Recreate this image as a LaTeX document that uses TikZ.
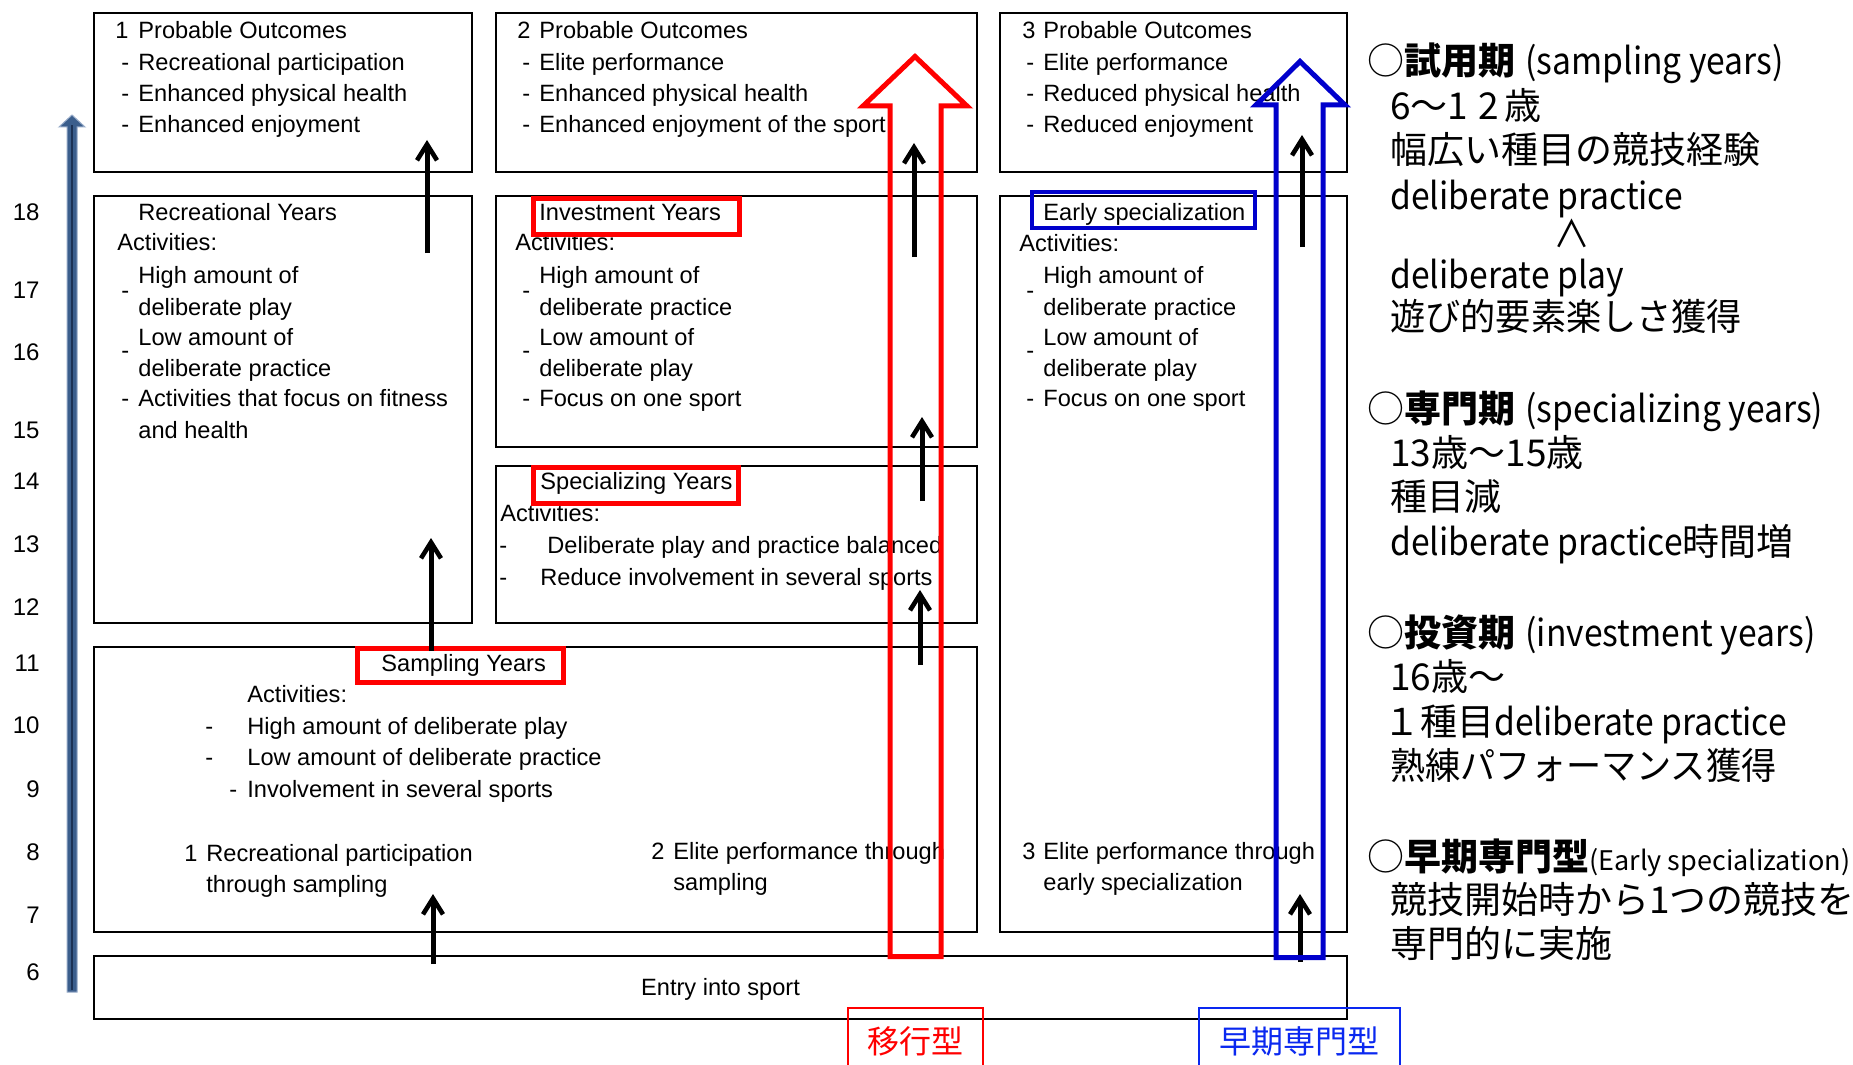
\documentclass[tikz,border=0pt]{standalone}
\usepackage{fontspec}
\setmainfont{Liberation Sans}
\newfontfamily\jp{Noto Sans CJK JP}
\newfontfamily\jpl[FakeStretch=0.91]{Noto Sans CJK JP}
\newfontfamily\jpn[FakeStretch=0.95]{Noto Sans CJK JP}
\usetikzlibrary{arrows.meta}
\definecolor{myred}{RGB}{255,0,0}
\definecolor{myblue}{RGB}{0,0,204}
\definecolor{lblblue}{RGB}{10,40,240}
\definecolor{axisblue}{RGB}{59,94,140}
\definecolor{axisdark}{RGB}{28,50,85}
\definecolor{axislight}{RGB}{150,170,200}
\begin{document}
\begin{tikzpicture}[x=0.5pt,y=-0.5pt,
  box/.style={draw, line width=1pt, inner sep=0pt, anchor=north west},
  hlred/.style={draw=myred, line width=2.5pt, inner sep=0pt, anchor=north west},
  hlblue/.style={draw=myblue, line width=2pt, inner sep=0pt, anchor=north west},
  txt/.style={anchor=west, inner sep=0pt, text height=8.45pt, text depth=0pt, font=\fontsize{11.8pt}{14pt}\selectfont},
  num/.style={anchor=east, inner sep=0pt, text height=8.6pt, text depth=0pt, font=\fontsize{12pt}{14pt}\selectfont},
  jtxt/.style={anchor=west, inner sep=0pt, text height=13.7pt, text depth=0pt, font=\jp\fontsize{18.5pt}{22pt}\selectfont},
  blk/.style={line width=2.5pt, -{Straight Barb[length=8pt,width=10pt,line width=2.3pt]}},
  bigred/.style={draw=myred, line width=2.5pt, miter limit=20},
  bigblue/.style={draw=myblue, line width=2.5pt, miter limit=20},
]
\useasboundingbox (0,0) rectangle (1853,1065);
\fill[white] (0,0) rectangle (1853,1065);

% ---------- axis arrow ----------
\fill[axisblue, draw=axislight, line width=0.5pt]
  (67,992) -- (67,127) -- (59,127) -- (72,115) -- (85,127) -- (77,127) -- (77,992) -- cycle;
\draw[axisdark, line width=0.6pt] (72,990) -- (72,125);

% ---------- age numbers ----------
\node[num] (n18) at (40,212) {18};
\node[num] (n17) at (40,290) {17};
\node[num] (n16) at (40,352) {16};
\node[num] (n15) at (40,430) {15};
\node[num] (n14) at (40,481) {14};
\node[num] (n13) at (40,544) {13};
\node[num] (n12) at (40,607) {12};
\node[num] (n11) at (40,663) {11};
\node[num] (n10) at (40,725) {10};
\node[num] (n9) at (40,789) {9};
\node[num] (n8) at (40,852) {8};
\node[num] (n7) at (40,915) {7};
\node[num] (n6) at (40,972) {6};

% ---------- boxes ----------
\node[box, minimum width=189pt, minimum height=79.5pt] (out1) at (93,12) {};
\node[box, minimum width=240.5pt, minimum height=79.5pt] (out2) at (495,12) {};
\node[box, minimum width=173.5pt, minimum height=79.5pt] (out3) at (999,12) {};
\node[box, minimum width=189pt, minimum height=213.5pt] (rec) at (93,195) {};
\node[box, minimum width=240.5pt, minimum height=125.5pt] (inv) at (495,195) {};
\node[box, minimum width=240.5pt, minimum height=78.5pt] (spec) at (495,465) {};
\node[box, minimum width=173.5pt, minimum height=368pt] (early) at (999,195) {};
\node[box, minimum width=441.5pt, minimum height=142.5pt] (samp) at (93,646) {};
\node[box, minimum width=626.5pt, minimum height=31.5pt, text height=8.45pt, text depth=0pt, font=\fontsize{11.8pt}{14pt}\selectfont] (entry) at (93,955) {Entry into sport};

% ---------- outcomes 1 ----------
\node[txt] (o1n) at (115,30) {1};
\node[txt] (o1h) at (138,30) {Probable Outcomes};
\node[txt] (o1d1) at (121,62) {-};
\node[txt] (o1a) at (138,62) {Recreational participation};
\node[txt] (o1d2) at (121,93) {-};
\node[txt] (o1b) at (138,93) {Enhanced physical health};
\node[txt] (o1d3) at (121,124) {-};
\node[txt] (o1c) at (138,124) {Enhanced enjoyment};

% ---------- outcomes 2 ----------
\node[txt] (o2n) at (517,30) {2};
\node[txt] (o2h) at (539,30) {Probable Outcomes};
\node[txt] (o2d1) at (522,62) {-};
\node[txt] (o2a) at (539,62) {Elite performance};
\node[txt] (o2d2) at (522,93) {-};
\node[txt] (o2b) at (539,93) {Enhanced physical health};
\node[txt] (o2d3) at (522,124) {-};
\node[txt] (o2c) at (539,124) {Enhanced enjoyment of the sport};

% ---------- outcomes 3 ----------
\node[txt] (o3n) at (1022,30) {3};
\node[txt] (o3h) at (1043,30) {Probable Outcomes};
\node[txt] (o3d1) at (1026,62) {-};
\node[txt] (o3a) at (1043,62) {Elite performance};
\node[txt] (o3d2) at (1026,93) {-};
\node[txt] (o3b) at (1043,93) {Reduced physical health};
\node[txt] (o3d3) at (1026,124) {-};
\node[txt] (o3c) at (1043,124) {Reduced enjoyment};

% ---------- recreational years ----------
\node[txt] (r1) at (138,212) {Recreational Years};
\node[txt] (r2) at (117,242) {Activities:};
\node[txt] (rd1) at (121,290) {-};
\node[txt] (r3) at (138,275) {High amount of};
\node[txt] (r4) at (138,307) {deliberate play};
\node[txt] (rd2) at (121,350) {-};
\node[txt] (r5) at (138,337) {Low amount of};
\node[txt] (r6) at (138,368) {deliberate practice};
\node[txt] (rd3) at (121,398) {-};
\node[txt] (r7) at (138,398) {Activities that focus on fitness};
\node[txt] (r8) at (138,430) {and health};

% ---------- investment years ----------
\node[txt] (i1) at (539,212) {Investment Years};
\node[txt] (i2) at (515,242) {Activities:};
\node[txt] (id1) at (522,290) {-};
\node[txt] (i3) at (539,275) {High amount of};
\node[txt] (i4) at (539,307) {deliberate practice};
\node[txt] (id2) at (522,350) {-};
\node[txt] (i5) at (539,337) {Low amount of};
\node[txt] (i6) at (539,368) {deliberate play};
\node[txt] (id3) at (522,398) {-};
\node[txt] (i7) at (539,398) {Focus on one sport};

% ---------- early specialization ----------
\node[txt] (e1) at (1043,212) {Early specialization};
\node[txt] (e2) at (1019,243) {Activities:};
\node[txt] (ed1) at (1026,290) {-};
\node[txt] (e3) at (1043,275) {High amount of};
\node[txt] (e4) at (1043,307) {deliberate practice};
\node[txt] (ed2) at (1026,350) {-};
\node[txt] (e5) at (1043,337) {Low amount of};
\node[txt] (e6) at (1043,368) {deliberate play};
\node[txt] (ed3) at (1026,398) {-};
\node[txt] (e7) at (1043,398) {Focus on one sport};

% ---------- specializing years ----------
\node[txt] (s1) at (540,481) {Specializing Years};
\node[txt] (s2) at (500,513) {Activities:};
\node[txt] (sd1) at (499,545) {-};
\node[txt] (s3) at (547,545) {Deliberate play and practice balanced};
\node[txt] (sd2) at (499,577) {-};
\node[txt] (s4) at (540,577) {Reduce involvement in several sports};

% ---------- sampling years ----------
\node[txt] (p1) at (381,663) {Sampling Years};
\node[txt] (p2) at (247,694) {Activities:};
\node[txt] (pd1) at (205,726) {-};
\node[txt] (p3) at (247,726) {High amount of deliberate play};
\node[txt] (pd2) at (205,757) {-};
\node[txt] (p4) at (247,757) {Low amount of deliberate practice};
\node[txt] (pd3) at (229,789) {-};
\node[txt] (p5) at (247,789) {Involvement in several sports};
\node[txt] (q1n) at (184,853) {1};
\node[txt] (q1a) at (206,853) {Recreational participation};
\node[txt] (q1b) at (206,884) {through sampling};
\node[txt] (q2n) at (651,851) {2};
\node[txt] (q2a) at (673,851) {Elite performance through};
\node[txt] (q2b) at (673,882) {sampling};
\node[txt] (q3n) at (1022,851) {3};
\node[txt] (q3a) at (1043,851) {Elite performance through};
\node[txt] (q3b) at (1043,882) {early specialization};

% ---------- highlight frames ----------
\node[hlred, minimum width=103pt, minimum height=18pt] (invR) at (530.5,196) {};
\node[hlred, minimum width=102.5pt, minimum height=18pt] (specR) at (530.5,464.5) {};
\node[hlred, minimum width=103pt, minimum height=17pt] (sampR) at (354.5,645.5) {};
\node[hlblue, minimum width=111.5pt, minimum height=18pt] (earlyB) at (1029.5,189.5) {};

% ---------- black arrows ----------
\coordinate (a1s) at (431,651); \coordinate (a1e) at (431,538);
\coordinate (a2s) at (427,253); \coordinate (a2e) at (427,140);
\coordinate (a3s) at (433,964); \coordinate (a3e) at (433,894);
\coordinate (a4s) at (920,665); \coordinate (a4e) at (920,590);
\coordinate (a5s) at (922,501); \coordinate (a5e) at (922,417);
\coordinate (a6s) at (914,257); \coordinate (a6e) at (914,143);
\coordinate (a7s) at (1300,962); \coordinate (a7e) at (1300,894);
\coordinate (a8s) at (1302,247); \coordinate (a8e) at (1302,135);
\draw[blk] (a1s) -- (a1e);
\draw[blk] (a2s) -- (a2e);
\draw[blk] (a3s) -- (a3e);
\draw[blk] (a4s) -- (a4e);
\draw[blk] (a5s) -- (a5e);
\draw[blk] (a6s) -- (a6e);
\draw[blk] (a7s) -- (a7e);
\draw[blk] (a8s) -- (a8e);

% ---------- big hollow arrows ----------
\draw[bigred] (915,56.5) -- (967,106) -- (941,106) -- (941,956.5) -- (890,956.5) -- (890,106) -- (863,106) -- cycle;
\draw[bigblue] (1300,61.5) -- (1345,105) -- (1323,105) -- (1323,957.5) -- (1276,957.5) -- (1276,105) -- (1256,105) -- cycle;

% ---------- type labels ----------
\draw[myred, line width=1pt] (848,1068) -- (848,1008) -- (983,1008) -- (983,1068);
\node[inner sep=0pt, text=myred, font=\jp\fontsize{16pt}{18pt}\selectfont] (lbl1) at (915.5,1041) {移行型};
\draw[lblblue, line width=1pt] (1199,1068) -- (1199,1008) -- (1400,1008) -- (1400,1068);
\node[inner sep=0pt, text=lblblue, font=\jp\fontsize{16pt}{18pt}\selectfont] (lbl2) at (1299.5,1041) {早期専門型};

% ---------- right-hand notes ----------
\node[jtxt] (j1) at (1367,61) {○\textbf{試用期}\hspace{5pt}{\jpl(sampling years)}};
\node[jtxt] (j2) at (1390,106) {6～1\kern5pt 2\kern2.5pt 歳};
\node[jtxt] (j3) at (1390,150) {幅広い種目の競技経験};
\node[jtxt] (j4) at (1390,196) {\jpl deliberate practice};
\node[jtxt, anchor=center] (j5) at (1572,234) {∧};
\node[jtxt] (j6) at (1390,275) {\jpl deliberate play};
\node[jtxt] (j7) at (1390,317) {\jpn 遊び的要素楽しさ獲得};
\node[jtxt] (j8) at (1367,409) {○\textbf{専門期}\hspace{5pt}{\jpl(specializing years)}};
\node[jtxt] (j9) at (1390,453) {13歳～15歳};
\node[jtxt] (j10) at (1390,497) {種目減};
\node[jtxt] (j11) at (1390,542) {{\jpl deliberate practice}時間増};
\node[jtxt] (j12) at (1367,633) {○\textbf{投資期}\hspace{5pt}{\jpl(investment years)}};
\node[jtxt] (j13) at (1390,677) {16歳～};
\node[jtxt] (j14) at (1383,722) {１種目{\jpl deliberate practice}};
\node[jtxt] (j15) at (1390,766) {\jpn 熟練パフォーマンス獲得};
\node[jtxt] (j16) at (1367,857) {○\textbf{早期専門型}{\fontsize{13.5pt}{16pt}\selectfont(Early specialization)}};
\node[jtxt] (j17) at (1390,900) {競技開始時から1つの競技を};
\node[jtxt] (j18) at (1390,944) {専門的に実施};
\end{tikzpicture}
\end{document}
